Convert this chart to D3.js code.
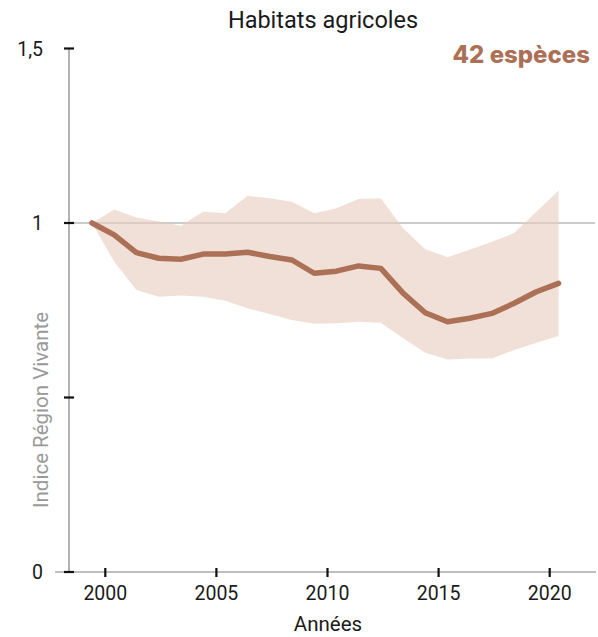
<!DOCTYPE html>
<html>
<head>
<meta charset="utf-8">
<script src="https://cdn.jsdelivr.net/npm/d3@7"></script>
<style>
  html, body { margin: 0; padding: 0; background: #fff; }
  svg { display: block; }
</style>
</head>
<body>
<svg id="chart" width="598" height="637"></svg>
<script>
// Indice Région Vivante, habitats agricoles (valeur 1 = année de référence)
const years = [1999, 2000, 2001, 2002, 2003, 2004, 2005, 2006, 2007, 2008, 2009,
               2010, 2011, 2012, 2013, 2014, 2015, 2016, 2017, 2018, 2019, 2020];
const indexValues = [1.000, 0.966, 0.915, 0.899, 0.896, 0.911, 0.911, 0.916, 0.904, 0.894, 0.856,
                     0.862, 0.877, 0.870, 0.799, 0.743, 0.717, 0.727, 0.741, 0.770, 0.803, 0.827];
const upperBound = [1.000, 1.039, 1.016, 1.004, 0.992, 1.032, 1.028, 1.078, 1.071, 1.061, 1.028,
                    1.042, 1.069, 1.071, 0.985, 0.925, 0.902, 0.923, 0.946, 0.971, 1.032, 1.093];
const lowerBound = [1.000, 0.889, 0.808, 0.789, 0.792, 0.789, 0.777, 0.756, 0.739, 0.722, 0.711,
                    0.713, 0.717, 0.714, 0.670, 0.628, 0.609, 0.612, 0.612, 0.636, 0.657, 0.676];
const xTicks = [2000, 2005, 2010, 2015, 2020];
const yTicks = [0, 0.5, 1, 1.5];
const yTickLabels = ["0", "", "1", "1,5"];
const speciesCount = 42;

const data = years.map((yr, i) => ({ year: yr, v: indexValues[i], lo: lowerBound[i], hi: upperBound[i] }));

const svg = d3.select("#chart");
const font = "Roboto, 'DejaVu Sans', sans-serif";
const lineColor = "#AB7056";

// yearly values are plotted at mid-year
const midYear = 0.4;
const x = d3.scaleLinear().domain([2000, 2020]).range([105.3, 549.7]);
const y = d3.scaleLinear().domain([0, 1.5]).range([572, 48.5]);

// x axis baseline
svg.append("line")
  .attr("x1", 55).attr("x2", 596)
  .attr("y1", y(0)).attr("y2", y(0))
  .attr("stroke", "#aaa").attr("stroke-width", 1.5);

// y axis line
svg.append("line")
  .attr("x1", 69).attr("x2", 69)
  .attr("y1", y(1.5)).attr("y2", y(0))
  .attr("stroke", "#666").attr("stroke-width", 1);

// reference line at 1
svg.append("line")
  .attr("x1", 69).attr("x2", 595)
  .attr("y1", y(1)).attr("y2", y(1))
  .attr("stroke", "#999").attr("stroke-width", 1.2);

// y ticks
const yAxis = svg.append("g");
yTicks.forEach((t, i) => {
  yAxis.append("line")
    .attr("x1", 64).attr("x2", 74)
    .attr("y1", y(t)).attr("y2", y(t))
    .attr("stroke", "#111").attr("stroke-width", 2.2);
  yAxis.append("text")
    .attr("x", 43).attr("y", y(t))
    .attr("dy", "0.36em")
    .attr("text-anchor", "end")
    .attr("font-family", font).attr("font-size", 19.5)
    .attr("fill", "#1a1a1a")
    .text(yTickLabels[i]);
});

// x ticks
const xAxis = svg.append("g");
xTicks.forEach(t => {
  xAxis.append("line")
    .attr("x1", x(t)).attr("x2", x(t))
    .attr("y1", y(0) - 4).attr("y2", y(0) + 5)
    .attr("stroke", "#111").attr("stroke-width", 2.2);
  xAxis.append("text")
    .attr("x", x(t)).attr("y", 600)
    .attr("text-anchor", "middle")
    .attr("font-family", font).attr("font-size", 19.5)
    .attr("fill", "#1a1a1a")
    .text(t);
});

// confidence band
const area = d3.area()
  .x(d => x(d.year + midYear))
  .y0(d => y(d.lo))
  .y1(d => y(d.hi));
svg.append("path")
  .datum(data)
  .attr("d", area)
  .attr("fill", "#E6CCBD")
  .attr("fill-opacity", 0.6);

// index line
const line = d3.line()
  .x(d => x(d.year + midYear))
  .y(d => y(d.v));
svg.append("path")
  .datum(data)
  .attr("d", line)
  .attr("fill", "none")
  .attr("stroke", lineColor)
  .attr("stroke-width", 5.5)
  .attr("stroke-linecap", "round")
  .attr("stroke-linejoin", "round");

// title
svg.append("text")
  .attr("x", 323).attr("y", 28)
  .attr("text-anchor", "middle")
  .attr("font-family", font).attr("font-size", 23.5)
  .attr("fill", "#1a1a1a")
  .text("Habitats agricoles");

// species count
svg.append("text")
  .attr("x", 590).attr("y", 63)
  .attr("text-anchor", "end")
  .attr("font-family", "Inter, 'Open Sans', sans-serif")
  .attr("font-weight", 800)
  .attr("font-size", 24)
  .attr("fill", lineColor)
  .text(speciesCount + " espèces");

// axis titles
svg.append("text")
  .attr("x", 328).attr("y", 631)
  .attr("text-anchor", "middle")
  .attr("font-family", font).attr("font-size", 20.5)
  .attr("fill", "#1a1a1a")
  .text("Années");

svg.append("text")
  .attr("transform", "translate(48,410) rotate(-90)")
  .attr("text-anchor", "middle")
  .attr("font-family", font).attr("font-size", 20.5)
  .attr("fill", "#999")
  .text("Indice Région Vivante");
</script>
</body>
</html>
